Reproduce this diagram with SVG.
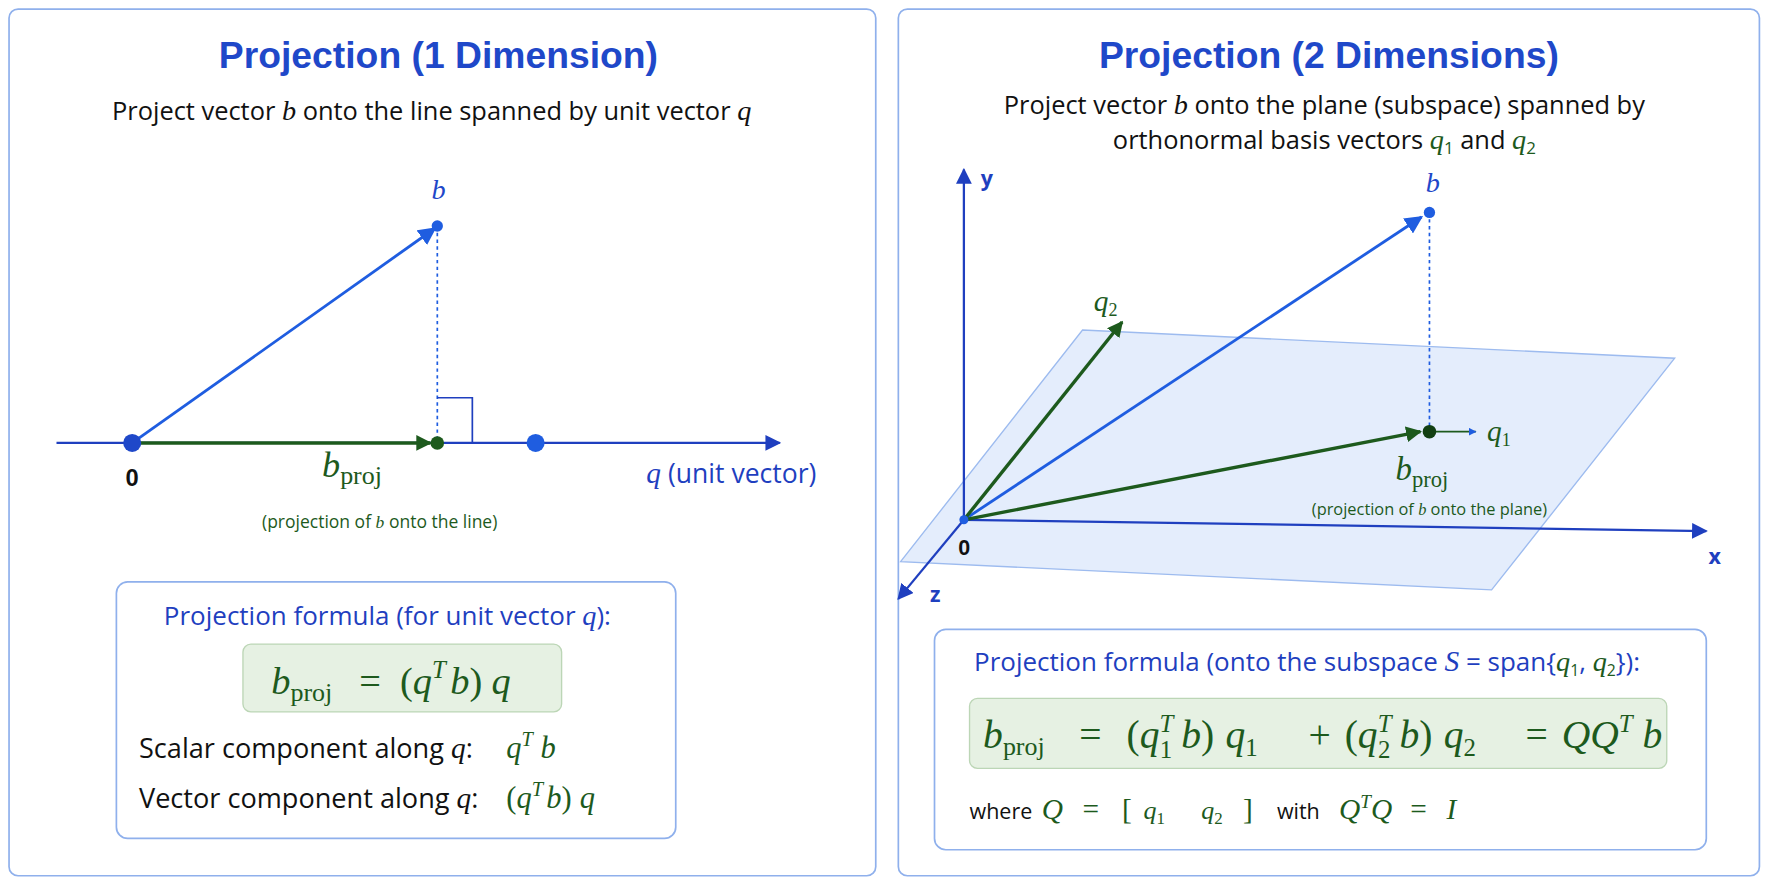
<svg xmlns="http://www.w3.org/2000/svg" width="1774" height="887" viewBox="0 0 1774 887">
<defs>
<style>
.panel{fill:#fff;stroke:#8fb0ec;stroke-width:1.5}
.fbox{fill:#fff;stroke:#8fb0ec;stroke-width:1.5}
.gbox{fill:#e6f1e3;stroke:#bcd6b6;stroke-width:1.2}
.title{font-family:"Liberation Sans",Arial,sans-serif;font-weight:bold;font-size:33px;fill:#1f48c9;text-anchor:middle}
.sub{font-family:"Open Sans","Liberation Sans",sans-serif;font-size:22.5px;fill:#111}
.ft{font-family:"Open Sans","Liberation Sans",sans-serif;font-size:23px;fill:#1f3fbf}
.tx{font-family:"Open Sans","Liberation Sans",sans-serif;font-size:24px;fill:#111}
.m{font-family:"Liberation Serif","Times New Roman",serif;font-style:italic}
.rm{font-family:"Liberation Serif","Times New Roman",serif;font-style:normal}
.g{fill:#1d5a1d}
.bl{fill:#1f48c9}
.ax{stroke:#1f3fbf;stroke-width:2;fill:none}
.bv{stroke:#1f5de0;stroke-width:2.5;fill:none}
.gv{stroke:#1d5a1d;stroke-width:3;fill:none}
.dot{stroke:#1f5de0;stroke-width:1.5;stroke-dasharray:3 3;fill:none}
</style>
<marker id="ab" viewBox="0 0 10 10" refX="9" refY="5" markerWidth="7" markerHeight="7" orient="auto" markerUnits="userSpaceOnUse"><path d="M0,0 L10,5 L0,10 z" fill="#1f5de0"/></marker>
<marker id="aa" viewBox="0 0 10 10" refX="9" refY="5" markerWidth="14" markerHeight="14" orient="auto" markerUnits="userSpaceOnUse"><path d="M0,0 L10,5 L0,10 z" fill="#1f3fbf"/></marker>
<marker id="abl" viewBox="0 0 10 10" refX="9" refY="5" markerWidth="16" markerHeight="16" orient="auto" markerUnits="userSpaceOnUse"><path d="M0,0 L10,5 L0,10 z" fill="#1f5de0"/></marker>
<marker id="ag" viewBox="0 0 10 10" refX="9" refY="5" markerWidth="14" markerHeight="14" orient="auto" markerUnits="userSpaceOnUse"><path d="M0,0 L10,5 L0,10 z" fill="#1d5a1d"/></marker>
</defs>
<rect width="1774" height="887" fill="#fff"/>
<g transform="scale(1.13)">
<g id="left-panel">
<rect class="panel" x="8" y="8" width="767" height="767" rx="8"/>
<text class="title" x="388" y="60">Projection (1 Dimension)</text>
<text class="sub" x="382" y="106" text-anchor="middle">Project vector <tspan class="m" font-size="25">b</tspan> onto the line spanned by unit vector <tspan class="m" font-size="25">q</tspan></text>
</g>
<g id="connectors-left">
<line class="ax" x1="50" y1="392" x2="690" y2="392" marker-end="url(#aa)"/>
<line class="bv" x1="117" y1="392" x2="385" y2="202" marker-end="url(#abl)"/>
<line class="gv" x1="117" y1="392" x2="381" y2="392" marker-end="url(#ag)"/>
<line class="dot" x1="387" y1="200" x2="387" y2="392"/>
<polyline points="387,352 418,352 418,392" fill="none" stroke="#1f3fbf" stroke-width="1.5"/>
</g>
<g id="points-left">
<circle cx="117" cy="392" r="8" fill="#1f48c9"/>
<circle cx="387" cy="392" r="6" fill="#1d5a1d"/>
<circle cx="474" cy="392" r="8" fill="#1f5de0"/>
<circle cx="387" cy="200" r="5" fill="#1f5de0"/>
<text x="388" y="176" class="m bl" font-size="25" text-anchor="middle">b</text>
<text x="117" y="430" font-family="Liberation Sans,Arial,sans-serif" font-weight="bold" font-size="21" text-anchor="middle" fill="#111">0</text>
<text x="285" y="422" class="m g" font-size="32">b<tspan class="rm" font-size="23" dy="6">proj</tspan></text>
<text x="336" y="467" class="tx g" style="font-size:15.5px" text-anchor="middle">(projection of <tspan class="m">b</tspan> onto the line)</text>
<text x="572" y="427" class="ft" style="font-size:23.5px"><tspan class="m" font-size="26">q</tspan> (unit vector)</text>
</g>
<g id="formula-left">
<rect class="fbox" x="103" y="515" width="495" height="227" rx="10"/>
<text class="ft" x="145" y="553">Projection formula (for unit vector <tspan class="m" font-size="25">q</tspan>):</text>
<rect class="gbox" x="215" y="570" width="282" height="60" rx="7"/>
<g class="m g" font-size="34">
<text x="240" y="614">b<tspan class="rm" font-size="23" dy="6">proj</tspan></text>
<text x="318" y="614" class="rm">=</text>
<text x="354" y="614"><tspan class="rm">(</tspan>q<tspan font-size="22" dy="-14">T</tspan><tspan dy="14" dx="4">b</tspan><tspan class="rm">)</tspan><tspan dx="8">q</tspan></text>
</g>
<text class="tx" x="123" y="671">Scalar component along <tspan class="m" font-size="26">q</tspan>:</text>
<text x="448" y="671" class="m g" font-size="27">q<tspan font-size="18" dy="-11">T</tspan><tspan dy="11"> b</tspan></text>
<text class="tx" x="123" y="715">Vector component along <tspan class="m" font-size="26">q</tspan>:</text>
<text x="448" y="715" class="m g" font-size="27"><tspan class="rm">(</tspan>q<tspan font-size="18" dy="-11">T</tspan><tspan dy="11" dx="3">b</tspan><tspan class="rm">)</tspan><tspan dx="7">q</tspan></text>
</g>
<g id="right-panel">
<rect class="panel" x="795" y="8" width="762" height="767" rx="8"/>
<text class="title" x="1176" y="60">Projection (2 Dimensions)</text>
<text class="sub" x="1172" y="101" text-anchor="middle">Project vector <tspan class="m" font-size="25">b</tspan> onto the plane (subspace) spanned by</text>
<text class="sub" x="1172" y="132" text-anchor="middle">orthonormal basis vectors <tspan class="m g" font-size="25">q</tspan><tspan class="g" font-size="15" dy="4">1</tspan><tspan dy="-4"> and </tspan><tspan class="m g" font-size="25">q</tspan><tspan class="g" font-size="15" dy="4">2</tspan></text>
</g>
<g id="plane">
<polygon points="958,292 1482,317 1320,522 797,497" fill="#dde9fb" fill-opacity="0.8" stroke="#9dbbef" stroke-width="1.2"/>
</g>
<g id="connectors-right">
<line class="ax" x1="853" y1="460" x2="853" y2="150" marker-end="url(#aa)"/>
<line class="ax" x1="853" y1="460" x2="1510" y2="470" marker-end="url(#aa)"/>
<line class="ax" x1="853" y1="460" x2="795" y2="530" marker-end="url(#aa)"/>
<line class="bv" x1="853" y1="460" x2="1258" y2="192" marker-end="url(#abl)"/>
<line class="gv" x1="853" y1="460" x2="993" y2="285" marker-end="url(#ag)"/>
<line class="gv" x1="853" y1="460" x2="1257" y2="382" marker-end="url(#ag)"/>
<line class="dot" x1="1265" y1="188" x2="1265" y2="382"/>
<line x1="1270" y1="382" x2="1306" y2="382" stroke="#1d5a1d" stroke-width="1.5" marker-end="url(#ab)"/>
</g>
<g id="points-right">
<circle cx="1265" cy="188" r="5" fill="#1f5de0"/>
<circle cx="1265" cy="382" r="6" fill="#123f12"/>
<circle cx="853" cy="460" r="4" fill="#1f5de0"/>
<text x="1268" y="170" class="m bl" font-size="25" text-anchor="middle">b</text>
<text x="868" y="165" class="ft" font-weight="bold" style="font-size:19px">y</text>
<text x="1512" y="499" class="ft" font-weight="bold" style="font-size:19px">x</text>
<text x="823" y="533" class="ft" font-weight="bold" style="font-size:19px">z</text>
<text x="848" y="491" font-family="Liberation Sans,Arial,sans-serif" font-weight="bold" font-size="19" fill="#111">0</text>
<text x="968" y="275" class="m g" font-size="26">q<tspan class="rm" font-size="16" dy="5">2</tspan></text>
<text x="1316" y="390" class="m g" font-size="26">q<tspan class="rm" font-size="16" dy="5">1</tspan></text>
<text x="1235" y="425" class="m g" font-size="29">b<tspan class="rm" font-size="20" dy="6">proj</tspan></text>
<text x="1265" y="456" class="tx g" style="font-size:14.5px" text-anchor="middle">(projection of <tspan class="m">b</tspan> onto the plane)</text>
</g>
<g id="formula-right">
<rect class="fbox" x="827" y="557" width="683" height="195" rx="10"/>
<text class="ft" x="862" y="594">Projection formula (onto the subspace <tspan class="m" font-size="26">S</tspan> = span{<tspan class="m g" font-size="25">q</tspan><tspan class="g" font-size="14" dy="4">1</tspan><tspan dy="-4">, </tspan><tspan class="m g" font-size="25">q</tspan><tspan class="g" font-size="14" dy="4">2</tspan><tspan dy="-4">}):</tspan></text>
<rect class="gbox" x="858" y="618" width="617" height="62" rx="7"/>
<g class="m g" font-size="35">
<text x="870" y="662">b<tspan class="rm" font-size="23" dy="6">proj</tspan></text>
<text x="955" y="662" class="rm">=</text>
<text x="997" y="662"><tspan class="rm">(</tspan>q<tspan font-size="22" dy="-14">T</tspan><tspan class="rm" font-size="22" dx="-12" dy="23">1</tspan><tspan dy="-9" dx="8">b</tspan><tspan class="rm">)</tspan><tspan dx="10">q</tspan><tspan class="rm" font-size="22" dy="7">1</tspan></text>
<text x="1158" y="662" class="rm">+</text>
<text x="1190" y="662"><tspan class="rm">(</tspan>q<tspan font-size="22" dy="-14">T</tspan><tspan class="rm" font-size="22" dx="-12" dy="23">2</tspan><tspan dy="-9" dx="8">b</tspan><tspan class="rm">)</tspan><tspan dx="10">q</tspan><tspan class="rm" font-size="22" dy="7">2</tspan></text>
<text x="1350" y="662" class="rm">=</text>
<text x="1382" y="662">QQ<tspan font-size="22" dy="-14">T</tspan><tspan dy="14"> b</tspan></text>
</g>
<g class="m g" font-size="26">
<text class="tx" x="858" y="725" font-style="normal" style="font-size:19px">where</text>
<text x="922" y="725">Q</text>
<text x="958" y="725" class="rm">=</text>
<text x="993" y="725" class="rm">[</text>
<text x="1012" y="725" font-size="23">q<tspan class="rm" font-size="15" dy="4">1</tspan></text>
<text x="1063" y="725" font-size="23">q<tspan class="rm" font-size="15" dy="4">2</tspan></text>
<text x="1100" y="725" class="rm">]</text>
<text class="tx" x="1130" y="725" font-style="normal" style="font-size:19px">with</text>
<text x="1185" y="725">Q<tspan font-size="17" dy="-10">T</tspan><tspan dy="10">Q</tspan></text>
<text x="1248" y="725" class="rm">=</text>
<text x="1280" y="725">I</text>
</g>
</g>
</g>
</svg>
